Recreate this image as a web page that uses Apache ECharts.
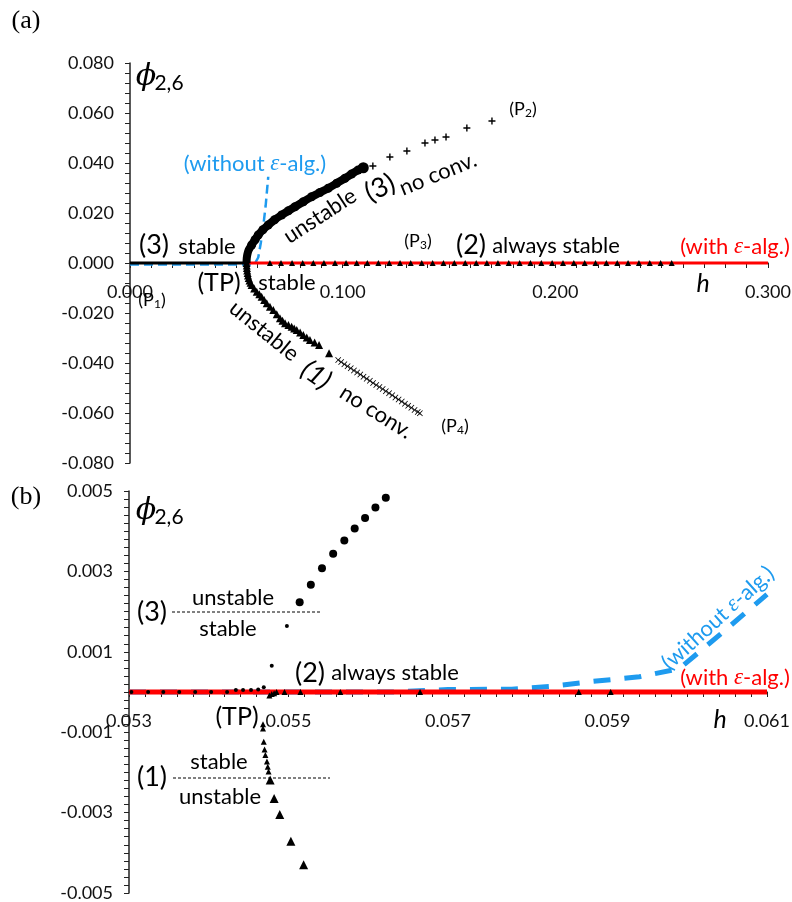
<!DOCTYPE html>
<html><head><meta charset="utf-8">
<script src="https://cdn.jsdelivr.net/npm/echarts@6/dist/echarts.min.js"></script>
<style>html,body{margin:0;padding:0;background:#fff}#c{width:792px;height:902px}</style>
</head><body><div id="c"></div><script>
// ---------- (a) data ----------
const topStableH = [0.0000, 0.0548];
const topStableV = [0, 0];
const topRedH = [0.0548, 0.3000];
const topRedV = [0, 0];
const topBlueH = [0.0000, 0.0570, 0.0590, 0.0603, 0.0615, 0.0627, 0.0638, 0.0650];
const topBlueV = [-0.0006, -0.0006, 0.0002, 0.0022, 0.0080, 0.0150, 0.0230, 0.0345];
const topZeroTriH = [0.0658, 0.0710, 0.0762, 0.0812, 0.0862, 0.0912, 0.0964, 0.1016, 0.1066, 0.1116,
  0.1168, 0.1219, 0.1270, 0.1320, 0.1372, 0.1423, 0.1474, 0.1525, 0.1576, 0.1628,
  0.1678, 0.1730, 0.1781, 0.1832, 0.1883, 0.1934, 0.1985, 0.2036, 0.2087, 0.2138,
  0.2189, 0.2240, 0.2291, 0.2342, 0.2393, 0.2444, 0.2495, 0.2547];
const topUpperH = [0.0548, 0.0549, 0.0552, 0.0558, 0.0572, 0.0588, 0.0603, 0.0625, 0.0650, 0.0680, 0.0713,
  0.0745, 0.0776, 0.0815, 0.0854, 0.0893, 0.0932, 0.0972, 0.1011, 0.1042, 0.1073, 0.1097];
const topUpperV = [0.0000, 0.0019, 0.0035, 0.0052, 0.0072, 0.0093, 0.0112, 0.0133, 0.0152, 0.0173, 0.0192,
  0.0209, 0.0225, 0.0245, 0.0265, 0.0282, 0.0299, 0.0319, 0.0339, 0.0356, 0.0372, 0.0381];
const topPlusH = [0.1142, 0.1222, 0.1302, 0.1387, 0.1434, 0.1486, 0.1584, 0.1702];
const topPlusV = [0.0388, 0.0424, 0.0448, 0.0480, 0.0492, 0.0504, 0.0540, 0.0568];
const topLowerH = [0.0548, 0.0549, 0.0550, 0.0551, 0.0553, 0.0555, 0.0558, 0.0562, 0.0567, 0.0572, 0.0584,
  0.0596, 0.0608, 0.0619, 0.0631, 0.0643, 0.0658, 0.0674, 0.0690, 0.0705, 0.0717, 0.0729, 0.0745,
  0.0760, 0.0772, 0.0784, 0.0800, 0.0815, 0.0831, 0.0846, 0.0868, 0.0889, 0.0936];
const topLowerV = [0.0000, -0.0010, -0.0020, -0.0030, -0.0040, -0.0050, -0.0060, -0.0070, -0.0079, -0.0088, -0.0102,
  -0.0115, -0.0125, -0.0135, -0.0148, -0.0161, -0.0175, -0.0188, -0.0205, -0.0221, -0.0231, -0.0241, -0.0248,
  -0.0255, -0.0262, -0.0268, -0.0278, -0.0288, -0.0298, -0.0308, -0.0318, -0.0328, -0.0361];
const topCrossH = [0.0979, 0.0993, 0.1008, 0.1023, 0.1038, 0.1053, 0.1068, 0.1083, 0.1098, 0.1113, 0.1128,
  0.1143, 0.1158, 0.1173, 0.1188, 0.1203, 0.1218, 0.1233, 0.1248, 0.1263, 0.1278, 0.1293, 0.1308,
  0.1323, 0.1338, 0.1353, 0.1363];
const topCrossV = [-0.0388, -0.0396, -0.0405, -0.0413, -0.0421, -0.0430, -0.0438, -0.0446, -0.0455, -0.0463, -0.0471,
  -0.0480, -0.0488, -0.0496, -0.0504, -0.0513, -0.0521, -0.0529, -0.0538, -0.0546, -0.0554, -0.0563, -0.0571,
  -0.0579, -0.0588, -0.0596, -0.0601];

// ---------- (b) data ----------
const botRedH = [0.0530, 0.0610];
const botRedV = [0, 0];
const botBlueH = [0.05300, 0.05630, 0.05700, 0.05780, 0.05830, 0.05880, 0.05940, 0.05990, 0.06050, 0.06100];
const botBlueV = [0.00000, 0.00000, 0.00006, 0.00007, 0.00014, 0.00026, 0.00038, 0.00058, 0.00158, 0.00243];
const botZeroDotH = [0.05303, 0.05324, 0.05343, 0.05363, 0.05383, 0.05403, 0.05423, 0.05434, 0.05443, 0.05453, 0.05462, 0.05469];
const botZeroDotV = [0, 0, 0, 0, 0, 0, 0, 0.00005, 0.00005, 0.00005, 0.00006, 0.00012];
const botSmallDotH = [0.05479, 0.05498];
const botSmallDotV = [0.00065, 0.00164];
const botCircleH = [0.05514, 0.05528, 0.05542, 0.05556, 0.05570, 0.05583, 0.05596, 0.05609, 0.05622];
const botCircleV = [0.00223, 0.00267, 0.00308, 0.00344, 0.00377, 0.00407, 0.00433, 0.00459, 0.00483];
const botZeroTriH = [0.05476, 0.05479, 0.05482, 0.05485, 0.05495, 0.05515, 0.05565, 0.05665, 0.05864, 0.05904];
const botZeroTriV = [-0.00009, -0.00005, -0.00003, 0, 0, 0, 0, 0, 0, 0];
const botLowSmallH = [0.05468, 0.05468, 0.05469, 0.05470, 0.05471, 0.05473, 0.05474, 0.05475];
const botLowSmallV = [-0.00080, -0.00091, -0.00124, -0.00143, -0.00157, -0.00173, -0.00186, -0.00198];
const botLowLargeH = [0.05477, 0.05482, 0.05489, 0.05503, 0.05519];
const botLowLargeV = [-0.00219, -0.00265, -0.00305, -0.00371, -0.00430];

// ---------- chart ----------
const pairs = (h, v) => h.map((x, i) => [x, v[i]]);
const zeros = h => h.map(x => [x, 0]);
const BLUE = '#1e9bef', RED = '#ff0000', INK = '#000';
const FONT = 'Lato, "Open Sans", sans-serif';
const PLUS = 'path://M4,0H6V4H10V6H6V10H4V6H0V4H4Z';
const CROSS = 'path://M0,1L1,0L5,4L9,0L10,1L6,5L10,9L9,10L5,6L1,10L0,9L4,5Z';

const axisLbl = {color: '#111', fontFamily: FONT, fontSize: 18};
function xAx(gi, min, max, interval, fmt, offset) {
  return {type: 'value', gridIndex: gi, min, max, interval, position: 'bottom', offset,
    axisLine: {onZero: false, lineStyle: {color: '#222', width: 1.5}},
    axisTick: {show: true, length: 5, lineStyle: {color: '#222', width: 1}},
    axisLabel: Object.assign({margin: 20, formatter: fmt}, axisLbl),
    splitLine: {show: false}};
}
function yAx(gi, min, max, interval, fmt) {
  return {type: 'value', gridIndex: gi, min, max, interval,
    axisLine: {show: true, onZero: false, lineStyle: {color: '#222', width: 1.5}},
    axisTick: {show: true, length: 5, lineStyle: {color: '#222', width: 1}},
    axisLabel: Object.assign({margin: 16, formatter: fmt}, axisLbl),
    splitLine: {show: false}};
}
const fx0 = v => (Math.round(v * 100) % 10 === 0 ? v.toFixed(3) : '');
const fy0 = v => (Math.abs(Math.round(v * 1000)) % 20 === 0 ? v.toFixed(3) : '');
const fx1 = v => (Math.round(v * 10000) % 20 === 10 ? v.toFixed(3) : '');
const fy1 = v => (Math.abs(Math.round(v * 10000)) % 20 === 10 ? v.toFixed(3) : '');

function line(gi, data, color, width, z, dash) {
  return {type: 'line', xAxisIndex: gi, yAxisIndex: gi, data, symbol: 'none', z,
    lineStyle: {color, width, type: dash || 'solid', cap: 'butt'}, silent: true, animation: false};
}
function scat(gi, data, symbol, size, z) {
  return {type: 'scatter', xAxisIndex: gi, yAxisIndex: gi, data, symbol, symbolSize: size, z,
    itemStyle: {color: INK, opacity: 1}, silent: true, animation: false};
}

const series = [
  line(0, pairs(topBlueH, topBlueV), BLUE, 2.5, 1, [9, 5]),
  line(0, pairs(topStableH, topStableV), INK, 3, 2),
  line(0, pairs(topRedH, topRedV), RED, 3, 2),
  scat(0, zeros(topZeroTriH), 'triangle', 6, 4),
  Object.assign(line(0, pairs(topUpperH, topUpperV), INK, 8, 3), {
    symbol: 'circle', showSymbol: true, smooth: 0.3,
    symbolSize: (v, p) => (p.dataIndex === topUpperH.length - 1 ? 11 : (p.dataIndex < 4 ? 6 : 9)),
    itemStyle: {color: INK}}),
  scat(0, pairs(topPlusH, topPlusV), PLUS, 7, 4),
  scat(0, pairs(topLowerH, topLowerV), 'triangle', 8, 4),
  scat(0, pairs(topCrossH, topCrossV), CROSS, 6, 4),

  line(1, pairs(botBlueH, botBlueV), BLUE, 5, 1, [17, 14]),
  line(1, pairs(botRedH, botRedV), RED, 5, 2),
  scat(1, pairs(botZeroDotH, botZeroDotV), 'circle', 4, 5),
  scat(1, pairs(botSmallDotH, botSmallDotV), 'circle', 4, 5),
  scat(1, pairs(botCircleH, botCircleV), 'circle', 8, 5),
  scat(1, pairs(botZeroTriH, botZeroTriV), 'triangle', 6, 5),
  scat(1, pairs(botLowSmallH, botLowSmallV), 'triangle', 6, 5),
  scat(1, pairs(botLowLargeH, botLowLargeV), 'triangle', 9, 5)
];

// annotation helpers
const EPS = {fontStyle: 'italic', fontFamily: '"Liberation Serif", serif'};
function txt(s, x, y, size, opts) {
  opts = opts || {};
  return {type: 'text', x, y, rotation: (opts.rot || 0) * Math.PI / 180, z: 100, silent: true,
    style: {text: s, x: 0, y: 0, align: 'center', verticalAlign: 'middle',
      fill: opts.color || INK, fontFamily: opts.family || FONT, fontSize: size,
      fontStyle: opts.italic ? 'italic' : 'normal',
      rich: opts.rich}};
}
function dash(x1, x2, y) {
  return {type: 'line', z: 100, silent: true, shape: {x1, y1: y, x2, y2: y},
    style: {stroke: INK, lineWidth: 1, lineDash: [3, 2]}};
}
const subRich = {s: {fontSize: 12, fontFamily: FONT, padding: [8, 0, 0, 0]}};
const epsRich = c => ({e: Object.assign({fontSize: 23, fill: c}, EPS)});
const T = 22;
const phi = (x, y) => [
  txt('ϕ', x, y, 30, {italic: true, family: '"DejaVu Serif", serif'}),
  txt('2,6', x + 23, y + 6, 21)
];

const graphic = [
  txt('(a)', 26, 21, 26, {family: '"Liberation Serif", serif'}),
  ...phi(146, 77),
  txt('(without {e|ε}-alg.)', 255, 164, T, {color: BLUE, rich: epsRich(BLUE)}),
  txt('(3)', 154, 245, 27),
  txt('stable', 207, 247, T),
  txt('(TP)', 219, 283, 25),
  txt('stable', 287, 283, T),
  txt('(P{s|1})', 152, 300, 18, {rich: subRich}),
  txt('unstable', 264, 331, T, {rot: -39}),
  txt('(1)', 316, 375, 27, {rot: -35, italic: true}),
  txt('no conv.', 376, 412, T, {rot: -32}),
  txt('(P{s|4})', 455, 426, 18, {rich: subRich}),
  txt('unstable', 320, 216, T, {rot: 33}),
  txt('(3)', 380, 188, 27, {rot: 25}),
  txt('no conv.', 438, 174, T, {rot: 22}),
  txt('(P{s|2})', 523, 109, 18, {rich: subRich}),
  txt('(P{s|3})', 418, 241, 18, {rich: subRich}),
  txt('(2)', 471, 245, 27),
  txt('always stable', 556, 246, T),
  txt('(with {e|ε}-alg.)', 735, 247, T, {color: RED, rich: epsRich(RED)}),
  txt('h', 703, 284, 25, {italic: true}),

  txt('(b)', 26, 497, 26, {family: '"Liberation Serif", serif'}),
  ...phi(146, 511),
  txt('(3)', 152, 612, 27),
  dash(172, 321, 612),
  txt('unstable', 233, 598, T),
  txt('stable', 228, 629, T),
  txt('(1)', 152, 777, 27),
  dash(173, 330, 778),
  txt('stable', 219, 762, T),
  txt('unstable', 220, 797, T),
  txt('(TP)', 237, 717, 25),
  txt('(2)', 310, 673, 27),
  txt('always stable', 395, 673, T),
  txt('(with {e|ε}-alg.)', 735, 678, T, {color: RED, rich: epsRich(RED)}),
  txt('(without {e|ε}-alg.)', 718, 618, T, {color: BLUE, rich: epsRich(BLUE), rot: 42}),
  txt('h', 720, 720, 25, {italic: true})
];

const chart = echarts.init(document.getElementById('c'), null, {renderer: 'canvas'});
chart.setOption({
  animation: false,
  backgroundColor: '#fff',
  grid: [
    {left: 130, top: 63, width: 638, height: 400, outerBoundsMode: 'none', containLabel: false},
    {left: 129, top: 491, width: 638, height: 402, outerBoundsMode: 'none', containLabel: false}
  ],
  xAxis: [xAx(0, 0, 0.3, 0.01, fx0, -200), xAx(1, 0.053, 0.061, 0.0002, fx1, -201)],
  yAxis: [yAx(0, -0.08, 0.08, 0.004, fy0), yAx(1, -0.005, 0.005, 0.0002, fy1)],
  series,
  graphic
});
</script></body></html>
